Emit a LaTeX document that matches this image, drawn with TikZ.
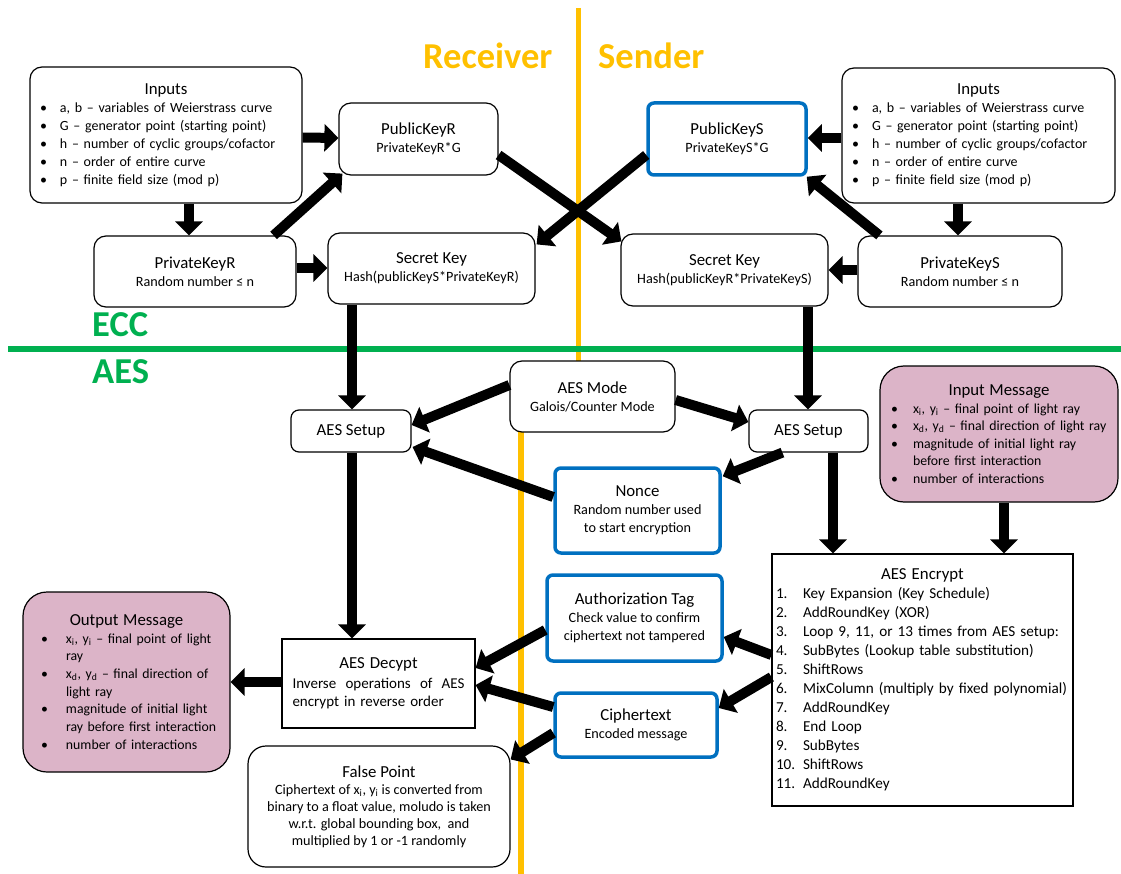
\documentclass[tikz,border=0pt]{standalone}
\usepackage{fontspec}
\setmainfont{Carlito}
\usetikzlibrary{arrows.meta,calc}
\definecolor{orng}{HTML}{FFC000}
\definecolor{grn}{HTML}{00B050}
\definecolor{blu}{HTML}{0070C0}
\definecolor{pnk}{HTML}{DCB4C8}
\newcommand\ttlf{\fontsize{16.8}{19}\selectfont}
\newcommand\subf{\fontsize{14.2}{18}\selectfont}
\newcommand\bitem[2][22pt]{\par\hangindent=#1\hangafter=1\noindent\makebox[#1][l]{\hspace{2pt}\textbullet}#2}
\newcommand\obitem[1]{\par\hangindent=33pt\hangafter=1\noindent\makebox[33pt][l]{\hspace{8pt}\textbullet}#1}
\newcommand\nitem[2]{\par\noindent\makebox[27pt][l]{#1}#2}
\newcommand\xs[1]{\textsubscript{#1}}
\tikzset{
 base/.style={draw=black, line width=1.2pt, fill=white, inner sep=0pt, align=center, font=\subf},
 rbox/.style={base, rounded corners=12pt},
 bbox/.style={base, draw=blu, line width=3.5pt, rounded corners=6pt},
 pbox/.style={base, fill=pnk, rounded corners=24pt},
 sbox/.style={base},
 wh/.style 2 args={minimum width=#1pt, minimum height=#2pt},
 arr/.style={line width=10pt, -{Triangle[width=27pt,length=14pt]}},
 big/.style={font=\fontsize{36.5}{42}\selectfont\bfseries, text=orng, inner sep=0pt, anchor=base west},
 sec/.style={font=\fontsize{36.5}{42}\selectfont\bfseries, text=grn, inner sep=0pt, anchor=base west},
}
\begin{document}
\begin{tikzpicture}[x=1pt,y=-1pt]
\useasboundingbox (0,0) rectangle (1121,874);
% separators
\coordinate (o1) at (578,8); \coordinate (o2) at (578,380);
\coordinate (o3) at (521,400); \coordinate (o4) at (521,874);
\coordinate (g1) at (8,349); \coordinate (g2) at (1121,349);
\draw[orng, line width=5pt] (o1) -- (o2);
\draw[orng, line width=6pt] (o3) -- (o4);
\draw[grn, line width=6pt] (g1) -- (g2);
\node[big] (rcv) at (423,69) {Receiver};
\node[big] (snd) at (598,69) {Sender};
\node[sec] (ecc) at (92,337) {ECC};
\node[sec] (aes) at (92,383) {AES};

% ECC part
\node[rbox, wh={272}{136}, text width=256pt, align=left, font=\fontsize{14}{18}\selectfont] (inL) at (166,135)
 {\centerline{\ttlf Inputs}%
 \bitem{a, b – variables of Weierstrass curve}%
 \bitem{G – generator point (starting point)}%
 \bitem{h – number of cyclic groups/cofactor}%
 \bitem{n – order of entire curve}%
 \bitem{p – finite field size (mod p)}};
\node[rbox, wh={273}{135}, text width=257pt, align=left, font=\fontsize{14}{18}\selectfont] (inR) at (978.5,135.5)
 {\centerline{\ttlf Inputs}%
 \bitem{a, b – variables of Weierstrass curve}%
 \bitem{G – generator point (starting point)}%
 \bitem{h – number of cyclic groups/cofactor}%
 \bitem{n – order of entire curve}%
 \bitem{p – finite field size (mod p)}};
\node[rbox, wh={159}{72}] (pubR) at (418.5,139) {{\ttlf PublicKeyR}\\PrivateKeyR*G};
\node[bbox, wh={158}{72}] (pubS) at (727,139) {{\ttlf PublicKeyS}\\PrivateKeyS*G};
\node[rbox, wh={202}{71}] (privR) at (195,271.5) {{\ttlf PrivateKeyR}\\Random number ≤ n};
\node[rbox, wh={204}{71}] (privS) at (960,271.5) {{\ttlf PrivateKeyS}\\Random number ≤ n};
\node[rbox, wh={207}{71}] (secL) at (431.5,268.5) {{\ttlf Secret Key}\\Hash(publicKeyS*PrivateKeyR)};
\node[rbox, wh={207}{72}] (secR) at (724.5,270) {{\ttlf Secret Key}\\Hash(publicKeyR*PrivateKeyS)};

% AES part
\node[rbox, wh={165}{71}] (mode) at (592.5,396.5) {{\ttlf AES Mode}\\Galois/Counter Mode};
\node[rbox, wh={120}{42}, rounded corners=8pt, font=\fontsize{16.8}{19}\selectfont] (setL) at (351,431) {AES Setup};
\node[rbox, wh={119}{42}, rounded corners=8pt, font=\fontsize{16.8}{19}\selectfont] (setR) at (808.5,431) {AES Setup};
\node[bbox, wh={165}{85}] (nonce) at (637.5,510.5) {{\ttlf Nonce}\\Random number used\\to start encryption};
\node[pbox, wh={238}{136}, text width=220pt, align=left, font=\fontsize{13.8}{17.5}\selectfont] (inMsg) at (999,434)
 {\centerline{\ttlf Input Message}%
 \bitem[24pt]{x\xs{i}, y\xs{i} – final point of light ray}%
 \bitem[24pt]{x\xs{d}, y\xs{d} – final direction of light ray}%
 \bitem[24pt]{magnitude of initial light ray\newline before first interaction}%
 \bitem[24pt]{number of interactions}};
\node[sbox, wh={301}{252}, text width=293pt, align=left, font=\fontsize{15.2}{19}\selectfont] (enc) at (922.5,680)
 {\centerline{\ttlf AES Encrypt}%
 \nitem{1.}{Key Expansion (Key Schedule)}%
 \nitem{2.}{AddRoundKey (XOR)}%
 \nitem{3.}{Loop 9, 11, or 13 times from AES setup:}%
 \nitem{4.}{SubBytes (Lookup table substitution)}%
 \nitem{5.}{ShiftRows}%
 \nitem{6.}{MixColumn (multiply by fixed polynomial)}%
 \nitem{7.}{AddRoundKey}%
 \nitem{8.}{End Loop}%
 \nitem{9.}{SubBytes}%
 \nitem{10.}{ShiftRows}%
 \nitem{11.}{AddRoundKey}};
\node[bbox, wh={175}{86}] (auth) at (634.5,618) {{\ttlf Authorization Tag}\\Check value to confirm\\ciphertext not tampered};
\node[bbox, wh={162}{64}] (ciph) at (636,725) {{\ttlf Ciphertext}\\Encoded message};
\node[sbox, wh={193}{89}, text width=172pt, align=left, font=\fontsize{15}{18}\selectfont] (dec) at (378.5,683.5)
 {\centerline{\ttlf AES Decypt}\par\vspace{2pt}%
 \noindent Inverse\hfill operations\hfill of\hfill AES\newline encrypt in reverse order};
\node[pbox, wh={207}{180}, text width=187pt, align=left, font=\fontsize{13.8}{17.7}\selectfont] (out) at (126.5,682)
 {\centerline{\ttlf Output Message}%
 \obitem{x\xs{i}, y\xs{i} – final point of light\newline ray}%
 \obitem{x\xs{d}, y\xs{d} – final direction of\newline light ray}%
 \obitem{magnitude of initial light\newline ray before first interaction}%
 \obitem{number of interactions}};
\node[rbox, wh={262}{121}, rounded corners=18pt, font=\fontsize{14.2}{17}\selectfont] (fp) at (379,806.5)
 {{\ttlf False Point}\\Ciphertext of x\xs{i}, y\xs{i} is converted from\\binary to a float value, moludo is taken\\w.r.t. global bounding box,\ \ and\\multiplied by 1 or -1 randomly};

% arrows
\draw[arr] ($(inL.east)+(0,2.5)$) -- ($(pubR.west)+(0,-1)$);
\draw[arr] ($(inL.south)+(23,0)$) -- ($(privR.north)+(-6,0)$);
\draw[arr] ($(privR.north east)+(-23,0)$) -- ($(pubR.south west)+(4,-2)$);
\draw[arr] ($(privR.east)+(0,-3.5)$) -- ($(secL.west)+(0,-0.5)$);
\draw[arr] ($(pubR.east)+(0,16)$) -- ($(secR.north west)+(1,8)$);
\draw[arr] ($(pubS.west)+(0,16)$) -- ($(secL.north east)+(1,12)$);
\draw[arr] ($(inR.west)+(0,2.5)$) -- ($(pubS.east)+(0,-1)$);
\draw[arr] ($(inR.south)+(-20.5,0)$) -- ($(privS.north)+(-2,0)$);
\draw[arr] ($(privS.north west)+(22,0)$) -- ($(pubS.south east)+(-1,0)$);
\draw[arr] ($(privS.west)+(0,-1.5)$) -- (secR.east);
\draw[arr] ($(secL.south)+(-79.5,0)$) -- ($(setL.north)+(1,0)$);
\draw[arr] ($(secR.south)+(83.5,0)$) -- ($(setR.north)+(-0.5,0)$);
\draw[arr] ($(mode.west)+(0,-11.5)$) -- ($(setL.east)+(0,-6)$);
\draw[arr] ($(mode.east)+(0,3.5)$) -- ($(setR.west)+(0,-9)$);
\draw[arr] ($(setR.south west)+(34,0)$) -- ($(nonce.north east)+(1,10)$);
\draw[arr] ($(nonce.west)+(0,-13.5)$) -- ($(setL.east)+(1,16)$);
\draw[arr] ($(setL.south)+(1,0)$) -- ($(dec.north)+(-26.5,0)$);
\draw[arr] ($(setR.south)+(24.5,0)$) -- ($(enc.north)+(-89.5,0)$);
\draw[arr] ($(inMsg.south)+(5,0)$) -- ($(enc.north)+(81.5,0)$);
\draw[arr] ($(enc.west)+(0,-25)$) -- ($(auth.east)+(0,19)$);
\draw[arr] ($(enc.west)+(0,-3)$) -- ($(ciph.east)+(0,-17)$);
\draw[arr] ($(auth.west)+(0,12)$) -- ($(dec.east)+(0,-15.5)$);
\draw[arr] ($(ciph.west)+(0,-18)$) -- ($(dec.east)+(0,1.5)$);
\draw[arr] ($(ciph.west)+(0,8)$) -- ($(fp.north east)+(0,14)$);
\draw[arr] ($(dec.west)+(0,-1.5)$) -- (out.east);
\end{tikzpicture}
\end{document}
